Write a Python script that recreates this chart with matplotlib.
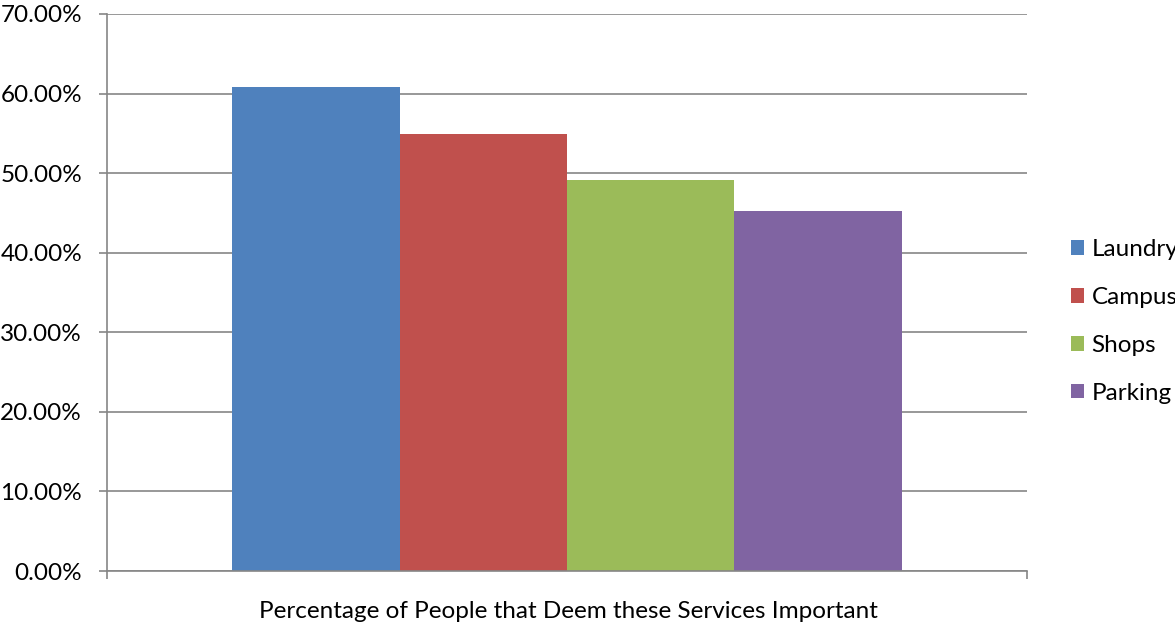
import numpy as np
import matplotlib.pyplot as plt
from matplotlib.ticker import PercentFormatter, FixedLocator

# Servicios y porcentaje de gente que los considera importantes
servicios = ['Laundry', 'Campus', 'Shops', 'Parking']
porcentajes = [60.8, 54.9, 49.1, 45.2]
colores = ['#4f81bd', '#c0504d', '#9bbb59', '#8064a2']
titulo_x = 'Percentage of People that Deem these Services Important'

plt.rcParams['font.family'] = ['Lato', 'DejaVu Sans']
plt.rcParams['font.size'] = 17.5

fig = plt.figure(figsize=(11.75, 6.25), dpi=100)
ax = fig.add_axes([107/1175, (625-571)/625, 920/1175, 557/625])

ancho = 0.182
pos = (np.arange(len(servicios)) - 1.5) * ancho
for p, v, c, s in zip(pos, porcentajes, colores, servicios):
    ax.bar(p, v, width=ancho, color=c, label=s, zorder=2)

ax.set_xlim(-0.5, 0.5)
ax.set_ylim(0, 70)
ax.yaxis.set_major_locator(FixedLocator(np.arange(0, 71, 10)))
ax.yaxis.set_major_formatter(PercentFormatter(decimals=2))
ax.grid(axis='y', color='#868686', linewidth=1.2, zorder=0)
ax.xaxis.set_major_locator(FixedLocator([-0.5, 0.5]))
ax.set_xticklabels([])
ax.tick_params(axis='both', color='#868686', width=1.2, length=6)
ax.tick_params(axis='y', pad=12, labelcolor='black')

for lado in ['top', 'right']:
    ax.spines[lado].set_visible(False)
for lado in ['left', 'bottom']:
    ax.spines[lado].set_color('#868686')
    ax.spines[lado].set_linewidth(1.2)

fig.text(568/1175, 1 - 612/625, titulo_x, ha='center', va='center')

# leyenda a la derecha, como en la hoja de cálculo (se sale por el borde)
ax.legend(loc='center left', bbox_to_anchor=(1061/920 - 107/920, 0.448), frameon=False,
          handlelength=0.55, handleheight=0.55, handletextpad=0.3, labelspacing=1.1,
          borderaxespad=0)

fig.savefig('out.png', dpi=100)
